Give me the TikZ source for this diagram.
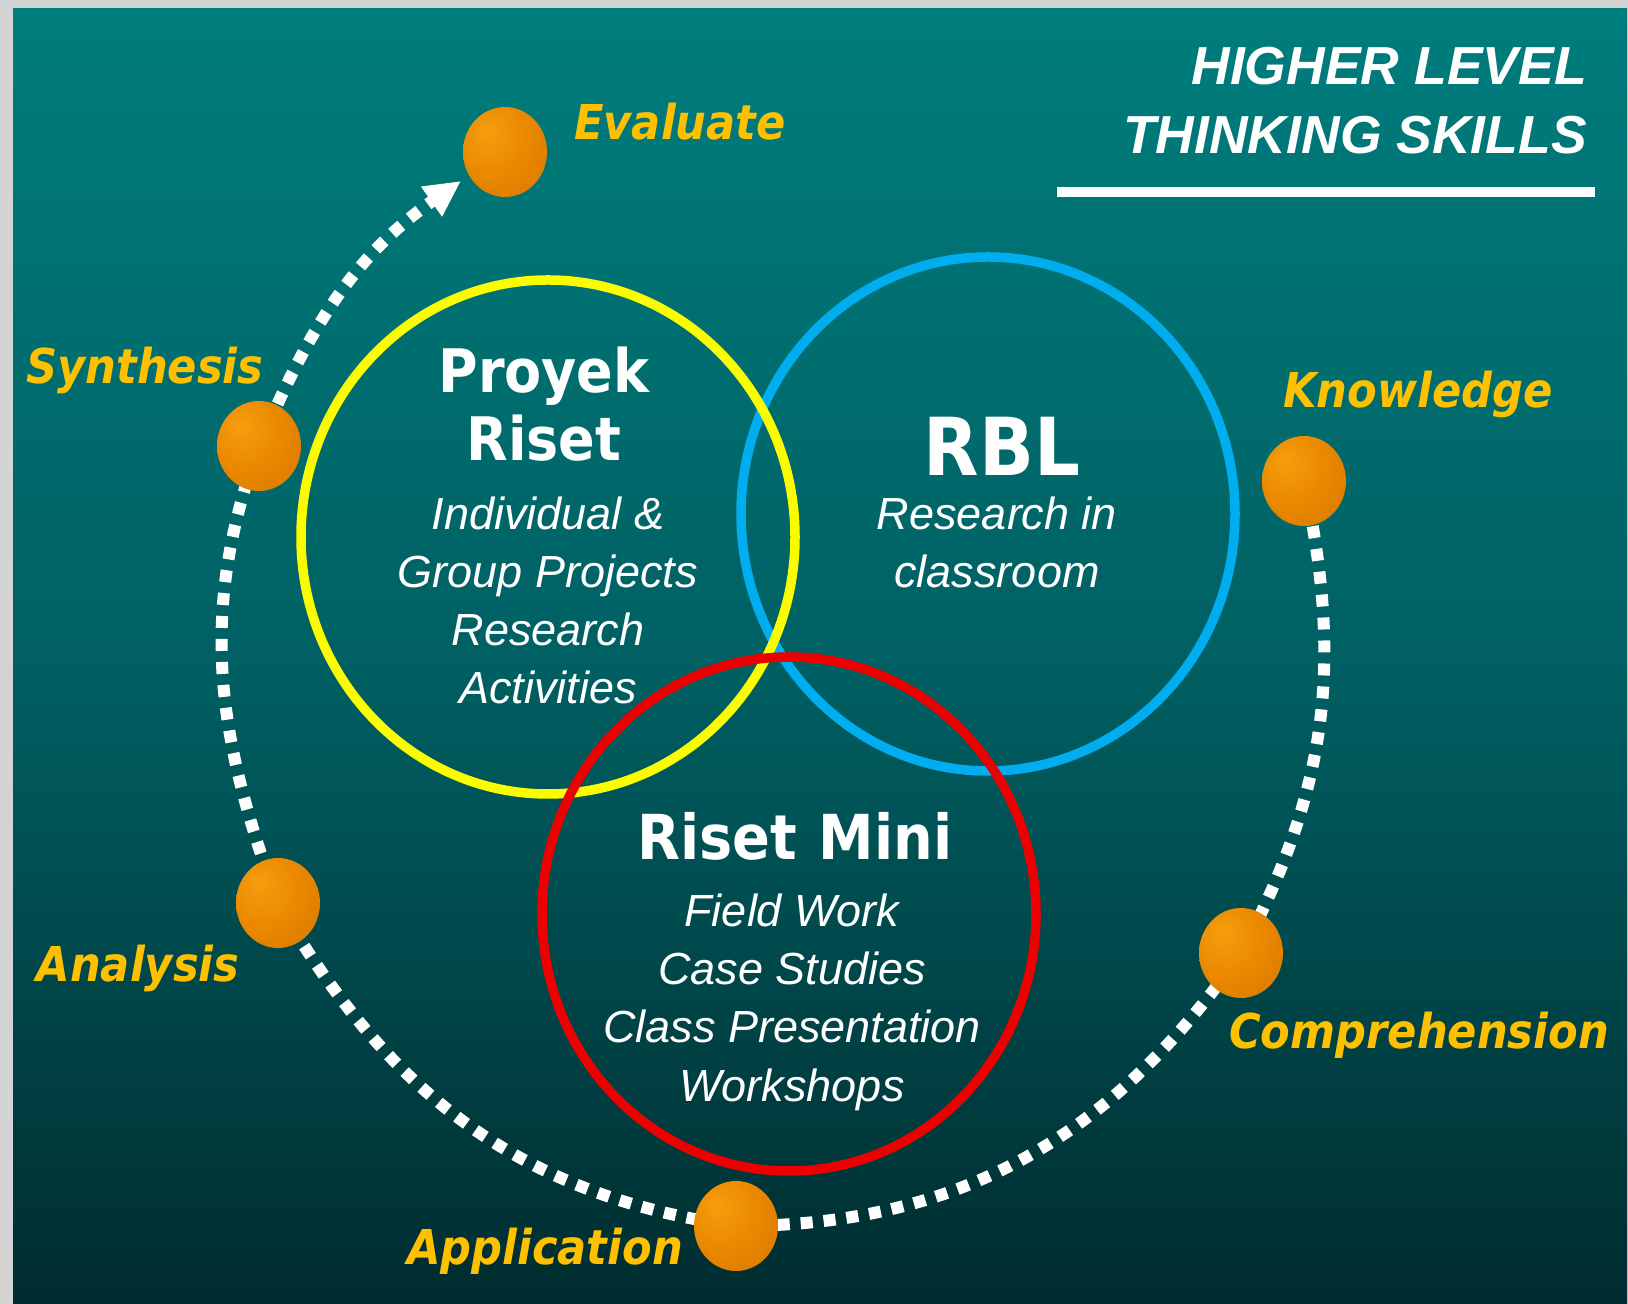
\documentclass[tikz,border=0pt]{standalone}
\usepackage{fontspec}
\usepackage{tikz}
\usetikzlibrary{arrows.meta}
\usetikzlibrary{calc}
\usepackage{xcolor}
\usetikzlibrary{arrows.meta,shapes.geometric}

\setmainfont{Liberation Sans}
\newfontfamily\vfont[FakeStretch=0.9]{DejaVu Sans}

\definecolor{tealtop}{RGB}{0,125,125}
\definecolor{tealmid}{RGB}{0,96,99}
\definecolor{tealbot}{RGB}{0,44,47}
\definecolor{frame}{RGB}{212,212,212}
\definecolor{gold}{RGB}{255,192,0}
\definecolor{ringyellow}{RGB}{252,252,0}
\definecolor{ringblue}{RGB}{0,174,239}
\definecolor{ringred}{RGB}{236,0,0}
\definecolor{orbhi}{RGB}{246,158,14}
\definecolor{orbmid}{RGB}{234,136,0}
\definecolor{orbrim}{RGB}{214,118,0}
\definecolor{orbdark}{RGB}{164,88,0}

\pgfdeclareradialshading{orbshade}{\pgfpoint{-12bp}{12bp}}{color(0bp)=(orbhi); color(22bp)=(orbmid); color(44bp)=(orbrim); color(62bp)=(orbdark); color(75bp)=(orbdark)}

\tikzset{
  orb/.style={ellipse, minimum width=84pt, minimum height=90pt, inner sep=0pt, shade, shading=orbshade},
  ring/.style={ellipse, line width=9.5pt, minimum width=494pt, minimum height=514pt, inner sep=0pt},
  tag/.style={text=gold, font=\vfont\bfseries\itshape\fontsize{48}{56}\selectfont, anchor=base},
  headtxt/.style={text=white, font=\vfont\bfseries\fontsize{60}{68}\selectfont, anchor=base},
  itemtxt/.style={text=white, font=\itshape\fontsize{45}{58}\selectfont, anchor=base},
  titletxt/.style={text=white, font=\bfseries\itshape\fontsize{53.5}{64}\selectfont, inner sep=0pt},
  trail/.style={white, line width=12pt, dash pattern=on 12pt off 11pt},
}

\begin{document}
\begin{tikzpicture}[x=1pt,y=1pt,>=Stealth]
	\useasboundingbox (0,0) rectangle (1628,1304);
	
	% Frame and backdrop
	\fill[frame] (0,0) rectangle (1628,1304);
	\shade[top color=tealtop, bottom color=tealbot, middle color=tealmid] (13,0) rectangle (1627,1295);
	
	% Title
	\node[titletxt, anchor=base east] (t1) at (1587,1219) {HIGHER LEVEL};
	\node[titletxt, anchor=base east] (t2) at (1587,1150) {THINKING SKILLS};
	\fill[white] (1057,1107) rectangle (1595,1117);
	
	% Three research circles
	\node[ring, draw=ringblue] (rbl) at (988,790) {};
	\node[ring, draw=ringyellow] (pr) at (548,767) {};
	\node[ring, draw=ringred] (rm) at (789,390) {};
	
	\node[headtxt] (pr1) at (544,911) {Proyek};
	\node[headtxt] (pr2) at (544,843) {Riset};
	\node[itemtxt] (pr3) at (548,774) {Individual \&};
	\node[itemtxt] (pr4) at (548,716) {Group Projects};
	\node[itemtxt] (pr5) at (548,658) {Research};
	\node[itemtxt] (pr6) at (548,600) {Activities};
	
	\node[headtxt, font=\vfont\bfseries\fontsize{80}{86}\selectfont] (rbl1) at (1002,828) {RBL};
	\node[itemtxt] (rbl2) at (997,774) {Research in};
	\node[itemtxt] (rbl3) at (997,716) {classroom};
	
	\node[headtxt, font=\vfont\bfseries\fontsize{62}{70}\selectfont] (rm1) at (795,444) {Riset\hspace{0.35em}Mini};
	\node[itemtxt] (rm2) at (792,377) {Field Work};
	\node[itemtxt] (rm3) at (792,319) {Case Studies};
	\node[itemtxt] (rm4) at (792,261) {Class Presentation};
	\node[itemtxt] (rm5) at (792,202) {Workshops};
	
	% Thinking skills trail
	\foreach \n/\x/\y in {kn/1304/823, co/1241/351, ap/736/78, an/278/401, sy/259/858}
		\coordinate (\n) at (\x,\y);
	\coordinate (tip) at (461,1123);
	
	\draw[trail] (kn) to[out=-78,in=62] (co) to[out=-125,in=0] (ap)
		to[out=172,in=-60] (an) to[out=110,in=-110] (sy);
	\draw[trail,-{Triangle[length=36pt,width=34pt]}] (sy) to[out=67,in=-145] (tip);
	
	\foreach \n in {kn,co,ap,an,sy}
		\node[orb] (b\n) at (\n) {};
	\node[orb] (bev) at (505,1152) {};
	
	\node[tag] (lev) at (680,1164) {Evaluate};
	\node[tag] (lsy) at (145,920) {Synthesis};
	\node[tag] (lan) at (138,322) {Analysis};
	\node[tag] (lap) at (545,39) {Application};
	\node[tag] (lco) at (1419,255) {Comprehension};
	\node[tag] (lkn) at (1418,896) {Knowledge};
	
\end{tikzpicture}
\end{document}
